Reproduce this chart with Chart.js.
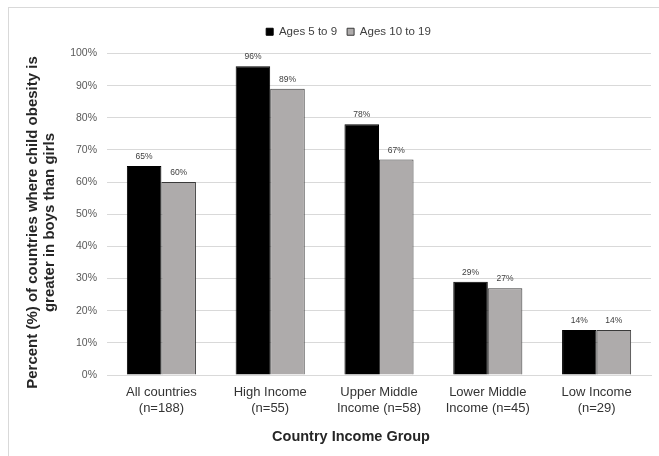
<!DOCTYPE html>
<html>
<head>
<meta charset="utf-8">
<script src="https://cdn.jsdelivr.net/npm/chart.js@4/dist/chart.umd.min.js"></script>
<style>
    html, body { margin: 0; padding: 0; background: #fff; }
    canvas { display: block; }
</style>
</head>
<body>
<canvas id="obesityChart" width="659" height="456"></canvas>
<script>
// data
const categories = [
    ['All countries', '(n=188)'],
    ['High Income', '(n=55)'],
    ['Upper Middle', 'Income (n=58)'],
    ['Lower Middle', 'Income (n=45)'],
    ['Low Income', '(n=29)']
];
const ages5to9 = [65, 96, 78, 29, 14];
const ages10to19 = [60, 89, 67, 27, 14];
const seriesNames = ['Ages 5 to 9', 'Ages 10 to 19'];
const yTitle = ['Percent (%) of countries where child obesity is', 'greater in boys than girls'];
const xTitle = 'Country Income Group';

const FONT = '"Liberation Sans", Arial, sans-serif';

// frame, axis titles and value labels
const extras = {
    id: 'extras',
    afterLayout(chart) {
        // nudge legend to where it sits in the original
        const lg = chart.legend;
        if (lg) {
            lg.left += 19;
            lg.right += 19;
            lg.top -= 6;
            lg.bottom -= 6;
        }
    },
    beforeDraw(chart) {
        const ctx = chart.ctx;
        ctx.save();
        ctx.strokeStyle = '#d9d9d9';
        ctx.lineWidth = 1;
        ctx.strokeRect(8.5, 7.5, 700, 500);
        ctx.restore();
    },
    afterDatasetsDraw(chart) {
        const ctx = chart.ctx;
        ctx.save();
        ctx.font = '8.5px ' + FONT;
        ctx.fillStyle = '#404040';
        ctx.textAlign = 'center';
        ctx.textBaseline = 'bottom';
        chart.data.datasets.forEach((ds, i) => {
            chart.getDatasetMeta(i).data.forEach((bar, j) => {
                ctx.fillText(ds.data[j] + '%', bar.x, bar.y - 5);
            });
        });

        ctx.fillStyle = '#262626';
        ctx.textBaseline = 'middle';
        ctx.font = 'bold 14.5px ' + FONT;
        ctx.fillText(xTitle, 351, 437);

        ctx.font = 'bold 15px ' + FONT;
        ctx.translate(33, 222.5);
        ctx.rotate(-Math.PI / 2);
        yTitle.forEach((line, k) => ctx.fillText(line, 0, k * 17));
        ctx.restore();
    }
};

new Chart(document.getElementById('obesityChart'), {
    type: 'bar',
    data: {
        labels: categories,
        datasets: [
            {
                label: seriesNames[0],
                data: ages5to9,
                backgroundColor: '#000000',
                borderColor: '#000000',
                borderWidth: 1,
                categoryPercentage: 0.635,
                barPercentage: 1.0
            },
            {
                label: seriesNames[1],
                data: ages10to19,
                backgroundColor: '#aeabab',
                borderColor: '#3a3a3a',
                borderWidth: 1,
                categoryPercentage: 0.635,
                barPercentage: 1.0
            }
        ]
    },
    options: {
        responsive: false,
        animation: false,
        devicePixelRatio: 1,
        layout: {
            padding: { top: 22, left: 8, right: 8, bottom: 0 }
        },
        plugins: {
            legend: {
                position: 'top',
                labels: {
                    boxWidth: 7,
                    boxHeight: 7,
                    padding: 10,
                    color: '#404040',
                    font: { family: FONT, size: 11.5 }
                }
            },
            tooltip: { enabled: false }
        },
        scales: {
            x: {
                grid: { display: false },
                border: { display: true, color: '#d9d9d9' },
                ticks: {
                    color: '#333333',
                    padding: 2,
                    font: { family: FONT, size: 13 }
                },
                afterFit: scale => { scale.height = 81; }
            },
            y: {
                min: 0,
                max: 100,
                grid: { color: '#d9d9d9', drawTicks: false },
                border: { display: false },
                ticks: {
                    stepSize: 10,
                    padding: 10,
                    color: '#595959',
                    font: { family: FONT, size: 10.5 },
                    callback: v => v + '%'
                },
                afterFit: scale => { scale.width = 99; }
            }
        }
    },
    plugins: [extras]
});
</script>
</body>
</html>
